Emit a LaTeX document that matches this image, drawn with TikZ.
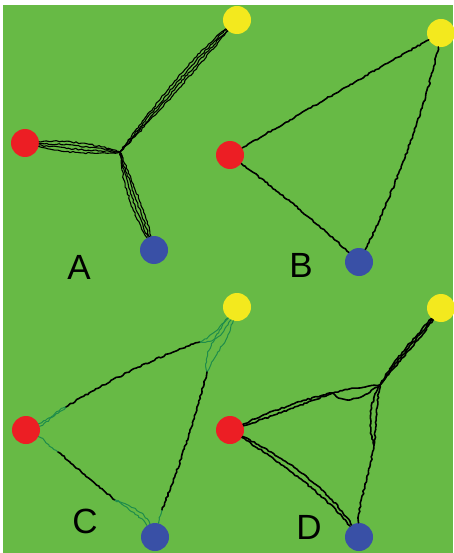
\documentclass[tikz,border=0pt]{standalone}
\usepackage{fontspec}
\setmainfont{Liberation Sans}
\usetikzlibrary{decorations.pathmorphing}
\definecolor{mould}{RGB}{103,186,69}
\definecolor{dotred}{RGB}{236,30,36}
\definecolor{dotyellow}{RGB}{243,233,30}
\definecolor{dotblue}{RGB}{57,80,166}
\definecolor{faint}{RGB}{30,140,75}
\tikzset{
  food/.style={circle,inner sep=0pt,minimum size=28pt},
  strand/.style={draw=black,line width=1.6pt,decorate,
    decoration={random steps,segment length=2.5pt,amplitude=0.8pt}},
  thin strand/.style={strand,line width=1.1pt},
  faint strand/.style={strand,draw=faint,line width=1pt},
  panel label/.style={font=\fontsize{35}{35}\selectfont}
}
\begin{document}
\begin{tikzpicture}[line cap=round,line join=round,x=1pt,y=-1pt]
\pgfmathsetseed{11}
\useasboundingbox (0,0) rectangle (453,553);
\fill[mould] (3,5) rectangle (453,553);
\node[food,fill=dotyellow] (ya) at (237,20) {};
\node[food,fill=dotred] (ra) at (25,143) {};
\node[food,fill=dotblue] (ba) at (154,250) {};
\coordinate (ja) at (120,152);
\node[panel label] (la) at (79,267) {A};
\foreach \d in {-5,-2,1,4}
  \draw[thin strand] (ya) .. controls (195+\d,62+\d) and (150+\d,118) .. (ja);
\foreach \d in {-3,1,5,9}
  \draw[thin strand] (ra) .. controls (60,143+\d) and (95,146+\d) .. (ja);
\foreach \d in {-6,-2,2,6}
  \draw[thin strand] (ja) .. controls (128+\d,185) and (140+\d,215) .. (ba);
\node[food,fill=dotyellow] (yb) at (441,33) {};
\node[food,fill=dotred] (rb) at (230,155) {};
\node[food,fill=dotblue] (bb) at (359,262) {};
\node[panel label] (lb) at (301,265) {B};
\draw[strand] (rb) .. controls (300,114) and (370,73) .. (yb);
\draw[strand] (yb) .. controls (428,100) and (395,190) .. (bb);
\draw[strand] (rb) .. controls (270,185) and (320,225) .. (bb);
\node[food,fill=dotyellow] (yc) at (237,307) {};
\node[food,fill=dotred] (rc) at (26,430) {};
\node[food,fill=dotblue] (bc) at (155,537) {};
\node[panel label] (lc) at (85,521) {C};
\coordinate (c1) at (66,407);
\coordinate (c2) at (200,342);
\coordinate (c3) at (207,372);
\coordinate (c4) at (162,510);
\coordinate (c5) at (58,452);
\coordinate (c6) at (115,500);
\draw[faint strand] (rc) .. controls (50,418) and (58,414) .. (c1);
\draw[faint strand] (rc) .. controls (48,424) and (55,410) .. (c1);
\draw[strand] (c1) .. controls (105,382) and (160,355) .. (c2);
\draw[faint strand] (c2) .. controls (212,336) and (222,325) .. (yc);
\draw[faint strand] (c2) .. controls (215,344) and (226,330) .. (yc);
\draw[faint strand] (yc) .. controls (215,335) and (203,355) .. (c3);
\draw[faint strand] (yc) .. controls (228,340) and (212,360) .. (c3);
\draw[strand] (c3) .. controls (195,420) and (178,470) .. (c4);
\draw[faint strand] (c4) -- (bc);
\draw[faint strand] (rc) .. controls (45,440) and (50,447) .. (c5);
\draw[strand] (c5) .. controls (80,470) and (100,488) .. (c6);
\draw[faint strand] (c6) .. controls (130,510) and (140,516) .. (bc);
\draw[faint strand] (c6) .. controls (128,505) and (145,512) .. (bc);
\node[food,fill=dotyellow] (yd) at (441,308) {};
\node[food,fill=dotred] (rd) at (230,430) {};
\node[food,fill=dotblue] (bd) at (359,537) {};
\node[panel label] (ld) at (309,527) {D};
\coordinate (jd) at (380,385);
\coordinate (d1) at (333,393);
\coordinate (d3) at (374,445);
\foreach \d in {-3,0,3}
  \draw[strand] (yd) .. controls (420+\d,335) and (395+\d,362) .. (jd);
\draw[strand] (rd) .. controls (270,412) and (300,400) .. (d1);
\draw[strand] (rd) .. controls (268,418) and (305,403) .. (d1);
\draw[strand] (d1) .. controls (350,388) and (368,386) .. (jd);
\draw[strand] (d1) .. controls (345,405) and (360,400) .. (jd);
\draw[strand] (jd) .. controls (376,405) and (377,425) .. (d3);
\draw[strand] (jd) .. controls (368,405) and (369,430) .. (d3);
\draw[strand] (d3) .. controls (368,480) and (358,505) .. (bd);
\draw[strand] (rd) .. controls (280,462) and (325,495) .. (bd);
\draw[strand] (rd) .. controls (285,458) and (330,490) .. (bd);
\end{tikzpicture}
\end{document}
